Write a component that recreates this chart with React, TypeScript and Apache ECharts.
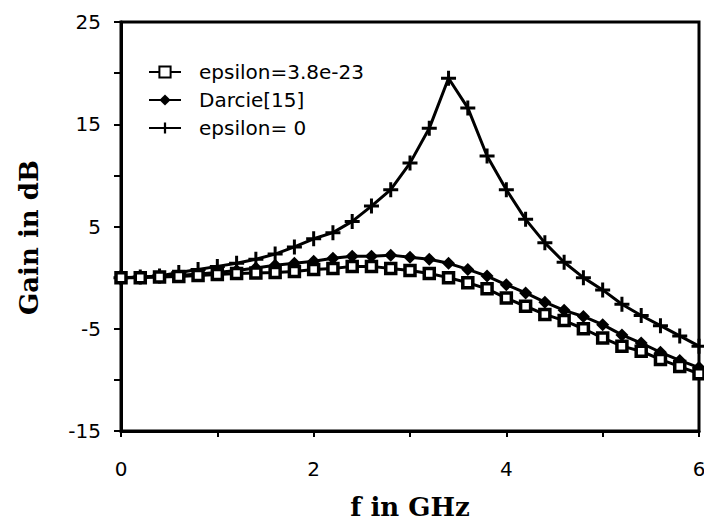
import React, { useEffect, useRef } from "react";
import * as echarts from "echarts";

// Frequency in GHz
const freq = [
  0, 0.2, 0.4, 0.6, 0.8, 1.0, 1.2, 1.4, 1.6, 1.8, 2.0, 2.2, 2.4, 2.6, 2.8, 3.0,
  3.2, 3.4, 3.6, 3.8, 4.0, 4.2, 4.4, 4.6, 4.8, 5.0, 5.2, 5.4, 5.6, 5.8, 6.0,
];

// Gain in dB, epsilon = 3.8e-23 (hollow squares)
const gainEpsSmall = [
  0, 0, 0.05, 0.1, 0.2, 0.3, 0.4, 0.45, 0.5, 0.6, 0.8, 0.9, 1.1, 1.1, 0.9, 0.7,
  0.4, 0.0, -0.5, -1.1, -2.0, -2.8, -3.6, -4.2, -5.0, -5.9, -6.7, -7.2, -8.0, -8.7, -9.4,
];

// Gain in dB, Darcie[15] (filled diamonds)
const gainDarcie = [
  0, 0.02, 0.1, 0.2, 0.35, 0.5, 0.7, 0.95, 1.2, 1.4, 1.6, 1.9, 2.1, 2.1, 2.2, 2.0,
  1.8, 1.4, 0.8, 0.15, -0.7, -1.5, -2.4, -3.2, -3.8, -4.6, -5.6, -6.4, -7.3, -8.1, -8.8,
];

// Gain in dB, epsilon = 0 (crosses)
const gainEpsZero = [
  0, 0.05, 0.15, 0.5, 0.8, 1.1, 1.4, 1.8, 2.3, 3.0, 3.8, 4.4, 5.5, 7.0, 8.6, 11.2,
  14.6, 19.5, 16.6, 11.9, 8.6, 5.7, 3.4, 1.5, 0.0, -1.2, -2.6, -3.7, -4.7, -5.7, -6.7,
];

const seriesNames = ["epsilon=3.8e-23", "Darcie[15]", "epsilon= 0"];
const yTickLabels = ["-15", "-5", "5", "15", "25"];
const xTickLabels = ["0", "2", "4", "6"];

const PLUS = "path://M4,0h2v4h4v2h-4v4h-2v-4h-4v-2h4z";

function pairs(xs: number[], ys: number[]) {
  return xs.map((x, i) => [x, ys[i]]);
}

export default function App() {
  const ref = useRef<HTMLDivElement>(null);

  useEffect(() => {
    if (!ref.current) return;
    const chart = echarts.init(ref.current, undefined, { renderer: "svg" });
    const sans = "DejaVu Sans";
    const serif = "DejaVu Serif";
    chart.setOption({
      animation: false,
      backgroundColor: "#fff",
      grid: {
        left: 121,
        right: 5,
        top: 22,
        bottom: 90,
        outerBoundsMode: "none",
        containLabel: false,
        show: true,
        borderColor: "#000",
        borderWidth: 3,
        backgroundColor: "transparent",
      },
      legend: {
        orient: "vertical",
        left: 148,
        top: 62,
        padding: 0,
        itemGap: 8,
        itemWidth: 32,
        itemHeight: 14,
        data: seriesNames,
        textStyle: {
          fontFamily: sans,
          fontSize: 20,
          color: "#000",
          padding: [0, 0, 0, 13],
        },
      },
      xAxis: {
        type: "value",
        min: 0,
        max: 6,
        interval: 1,
        name: "f in GHz",
        nameLocation: "middle",
        nameGap: 63,
        nameTextStyle: {
          fontFamily: serif,
          fontWeight: "bold",
          fontSize: 26,
          color: "#000",
        },
        axisLine: { onZero: false, lineStyle: { color: "#000", width: 3 } },
        axisTick: { length: 6, lineStyle: { color: "#000", width: 2 } },
        splitLine: { show: false },
        axisLabel: {
          margin: 28,
          fontFamily: sans,
          fontSize: 20,
          color: "#000",
          formatter: (v: number) =>
            xTickLabels.includes(String(v)) ? String(v) : "",
        },
      },
      yAxis: {
        type: "value",
        min: -15,
        max: 25,
        interval: 5,
        name: "Gain in dB",
        nameLocation: "middle",
        nameGap: 79,
        nameTextStyle: {
          fontFamily: serif,
          fontWeight: "bold",
          fontSize: 26,
          color: "#000",
          padding: [0, 22, 0, 0],
        },
        axisLine: { onZero: false, lineStyle: { color: "#000", width: 3 } },
        axisTick: { length: 7, lineStyle: { color: "#000", width: 2 } },
        splitLine: { show: false },
        axisLabel: {
          margin: 20,
          fontFamily: sans,
          fontSize: 20,
          color: "#000",
          formatter: (v: number) =>
            yTickLabels.includes(String(v)) ? String(v) : "",
        },
      },
      series: [
        {
          name: seriesNames[2],
          type: "line",
          data: pairs(freq, gainEpsZero),
          symbol: PLUS,
          symbolSize: 15,
          lineStyle: { color: "#000", width: 3 },
          itemStyle: { color: "#000" },
          z: 2,
        },
        {
          name: seriesNames[1],
          type: "line",
          data: pairs(freq, gainDarcie),
          symbol: "diamond",
          symbolSize: [13, 13],
          lineStyle: { color: "#000", width: 3 },
          itemStyle: { color: "#000" },
          z: 3,
        },
        {
          name: seriesNames[0],
          type: "line",
          data: pairs(freq, gainEpsSmall),
          symbol: "rect",
          symbolSize: 10,
          showAllSymbol: true,
          lineStyle: { color: "#000", width: 3 },
          itemStyle: { color: "#fff", borderColor: "#000", borderWidth: 3.5 },
          z: 4,
        },
      ],
    });
    return () => chart.dispose();
  }, []);

  return (
    <div
      ref={ref}
      style={{
        position: "absolute",
        left: 0,
        top: 0,
        width: 704,
        height: 521,
        background: "#fff",
      }}
    />
  );
}
